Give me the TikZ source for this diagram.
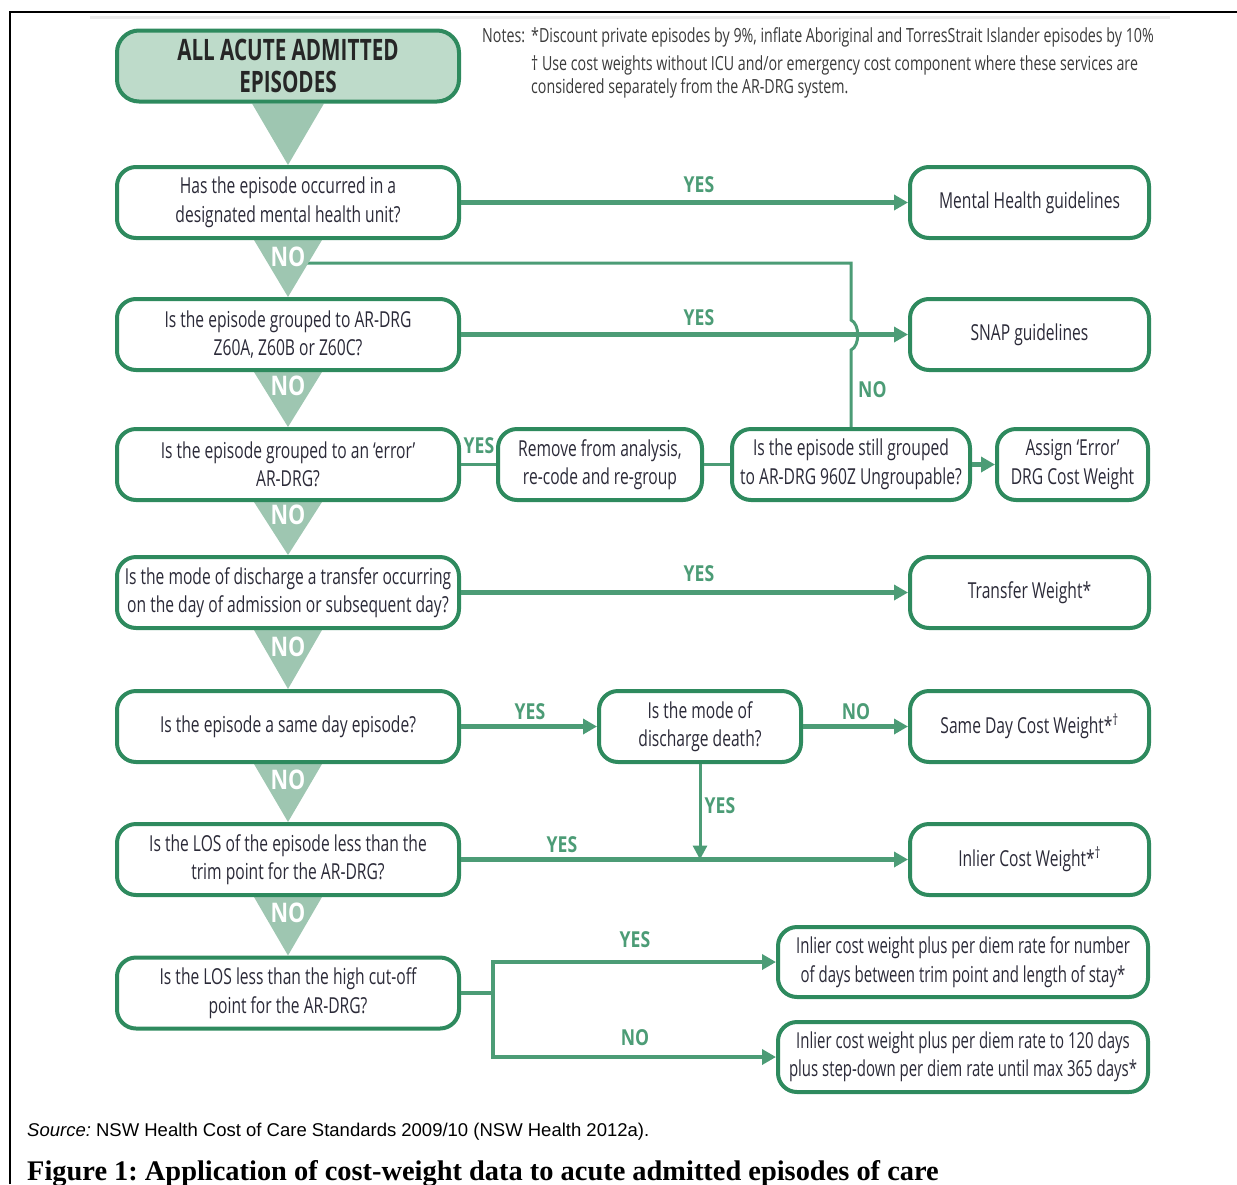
\documentclass[tikz,border=0pt]{standalone}
\usepackage{fontspec}
\setmainfont{Liberation Serif}
\newfontfamily\cnd[FakeStretch=0.71]{Open Sans}
\newfontfamily\cndn[FakeStretch=0.68]{Open Sans}
\newfontfamily\cndl[FakeStretch=0.8]{Open Sans}
\newfontfamily\cndh[FakeStretch=0.73]{Open Sans}
\newfontfamily\cndt[FakeStretch=0.70]{Open Sans}
\newfontfamily\arialf{Liberation Sans}
\usetikzlibrary{arrows.meta,backgrounds}
\definecolor{bgreen}{HTML}{2E8A5E}
\definecolor{cgreen}{HTML}{4C9C76}
\definecolor{tfill}{HTML}{9EC6B1}
\definecolor{hfill}{HTML}{BEDBCA}
\definecolor{txt}{HTML}{2B2A38}
\definecolor{notec}{HTML}{3A3A3A}
\frenchspacing
\begin{document}
\begin{tikzpicture}[x=1pt,y=-1pt,
 box/.style={draw=bgreen, line width=4pt, rounded corners=19pt, fill=white, align=center, text=txt, inner sep=0pt, font=\cnd\fontsize{22}{28.5}\selectfont, minimum height=71pt},
 lbox/.style={box, minimum width=342pt},
 rbox/.style={box, minimum width=239pt},
 conn/.style={draw=cgreen, line width=4.5pt},
 arr/.style={conn, -{Triangle[length=14pt,width=15pt]}},
 thinl/.style={draw=cgreen, line width=3pt},
 lbl/.style={text=cgreen, font=\cndl\bfseries\fontsize{22}{22}\selectfont, inner sep=0pt},
 nolbl/.style={text=white, font=\cndl\bfseries\fontsize{27}{27}\selectfont, inner sep=0pt},
 tri/.style={fill=tfill},
 notes/.style={text=notec, font=\cndh\fontsize{19.5}{22}\selectfont, inner sep=0pt, anchor=base west},
]
\useasboundingbox (0,0) rectangle (1237,1184);
% page frame
\draw[black, line width=2.5pt] (10,1184) -- (10,12) -- (1237,12);
\draw[black!8, line width=3pt] (90,17.5) -- (1170,17.5);

% header
\node[lbox, fill=hfill, rounded corners=22pt, font=\cndt\bfseries\fontsize{29.5}{32}\selectfont, text=black!85] (h0) at (288,66) {\raisebox{-2pt}{ALL ACUTE ADMITTED}\\\raisebox{-2pt}{EPISODES}};

% left column questions
\node[lbox] (q1) at (288,202.5) {Has the episode occurred in a\\designated mental health unit?};
\node[lbox] (q2) at (288,334.5) {Is the episode grouped to AR-DRG\\Z60A, Z60B or Z60C?};
\node[lbox] (q3) at (288,464.5) {Is the episode grouped to an ‘error’\\AR-DRG?};
\node[lbox] (q4) at (288,592.5) {Is the mode of discharge a transfer occurring\\on the day of admission or subsequent day?};
\node[lbox] (q5) at (288,726.5) {Is the episode a same day episode?};
\node[lbox] (q6) at (288,859.5) {Is the LOS of the episode less than the\\trim point for the AR-DRG?};
\node[lbox] (q7) at (288,993) {Is the LOS less than the high cut-off\\point for the AR-DRG?};

% right column outcomes
\node[rbox] (r1) at (1029.5,202.5) {Mental Health guidelines};
\node[rbox] (r2) at (1029.5,334.5) {SNAP guidelines};
\node[box, minimum width=204pt] (rm) at (600,464.5) {Remove from analysis,\\re-code and re-group};
\node[box, minimum width=238pt] (sg) at (851,464.5) {Is the episode still grouped\\to AR-DRG 960Z Ungroupable?};
\node[box, minimum width=151pt] (er) at (1072.5,464.5) {Assign ‘Error’\\DRG Cost Weight};
\node[rbox] (r4) at (1029.5,592.5) {Transfer Weight*};
\node[box, minimum width=202pt] (dd) at (700,726.5) {Is the mode of\\discharge death?};
\node[rbox] (r5) at (1029.5,726.5) {Same Day Cost Weight*\textsuperscript{†}};
\node[rbox] (r6) at (1029.5,859.5) {Inlier Cost Weight*\textsuperscript{†}};
\node[box, minimum width=370pt, minimum height=70pt, font=\cndn\fontsize{22}{28.5}\selectfont] (r7a) at (963,962) {Inlier cost weight plus per diem rate for number\\of days between trim point and length of stay*};
\node[box, minimum width=370pt, minimum height=70pt, font=\cndn\fontsize{22}{28.5}\selectfont] (r7b) at (963,1057) {Inlier cost weight plus per diem rate to 120 days\\plus step-down per diem rate until max 365 days*};

\coordinate (nostart) at (300,263);
\coordinate (br) at (493,993);

% background: loop-back line and triangles
\begin{scope}[on background layer]
\draw[thinl] (sg.north) -- (851,350) .. controls (860,346) and (860,324) .. (851,320) -- (851,263) -- (nostart);
\fill[tri] ([xshift=-36pt]h0.south) -- ([xshift=36pt]h0.south) -- (q1.north) -- cycle;
\foreach \a/\b in {q1/q2,q2/q3,q3/q4,q4/q5,q5/q6,q6/q7}
  \fill[tri] ([xshift=-34pt]\a.south) -- ([xshift=34pt]\a.south) -- (\b.north) -- cycle;
\end{scope}

% NO labels in triangles
\node[nolbl] (t1) at (288,257) {NO};
\node[nolbl] (t2) at (288,386) {NO};
\node[nolbl] (t3) at (288,515) {NO};
\node[nolbl] (t4) at (288,647) {NO};
\node[nolbl] (t5) at (288,780) {NO};
\node[nolbl] (t6) at (288,913) {NO};

% connectors
\draw[arr] (q1.east) -- (r1.west);
\draw[arr] (q2.east) -- (r2.west);
\draw[thinl] (q3.east) -- (rm.west);
\draw[thinl] (rm.east) -- (sg.west);
\draw[arr] (sg.east) -- (er.west);
\draw[arr] (q4.east) -- (r4.west);
\draw[arr] (q5.east) -- (dd.west);
\draw[arr] (dd.east) -- (r5.west);
\draw[arr] (q6.east) -- (r6.west);
\draw[thinl, -{Triangle[length=14pt,width=14pt]}] (dd.south) -- (dd.south |- q6.east);
\draw[conn] (q7.east) -- (br);
\draw[arr] (br) |- (r7a.west);
\draw[arr] (br) |- (r7b.west);

% connector labels
\node[lbl] (y1) at (699,185) {YES};
\node[lbl] (y2) at (699,318) {YES};
\node[lbl] (y3) at (479,446) {YES};
\node[lbl, anchor=west] (n3) at (858,390) {NO};
\node[lbl] (y4) at (699,574) {YES};
\node[lbl] (y5) at (530,712) {YES};
\node[lbl] (n5) at (856,712) {NO};
\node[lbl] (y5b) at (720,806) {YES};
\node[lbl] (y6) at (562,845) {YES};
\node[lbl] (y7) at (635,940) {YES};
\node[lbl] (n7) at (635,1038) {NO};

% notes
\node[notes] (nt0) at (482,42) {Notes:};
\node[notes] (nt1) at (531,42) {*Discount private episodes by 9\%, inflate Aboriginal and TorresStrait Islander episodes by 10\%};
\node[notes] (nt2) at (531,70) {† Use cost weights without ICU and/or emergency cost component where these services are};
\node[notes] (nt3) at (531,93) {considered separately from the AR-DRG system.};

% source and caption
\node[anchor=base west, inner sep=0pt, font=\arialf\fontsize{18.5}{20}\selectfont] (src) at (27,1136) {\textit{Source:} NSW Health Cost of Care Standards 2009/10 (NSW Health 2012a).};
\node[anchor=base west, inner sep=0pt, font=\bfseries\fontsize{28.4}{30}\selectfont] (cap) at (27,1180) {Figure 1: Application of cost-weight data to acute admitted episodes of care};
\end{tikzpicture}
\end{document}
